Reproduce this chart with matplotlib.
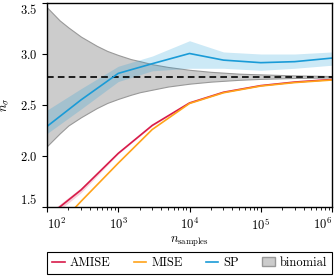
import matplotlib
matplotlib.use('Agg')
import matplotlib.pyplot as plt
from matplotlib.patches import Patch
from matplotlib.lines import Line2D

plt.rcParams['font.family'] = 'serif'
plt.rcParams['font.serif'] = ['cmr10']
plt.rcParams['mathtext.fontset'] = 'cm'
plt.rcParams['axes.formatter.use_mathtext'] = True
plt.rcParams['font.size'] = 9

# measured points
n_samples = [100, 300, 1000, 3000, 10000, 30000, 100000, 300000, 1000000]
amise = [1.40, 1.667, 2.026, 2.30, 2.52, 2.625, 2.69, 2.725, 2.75]
amise_lo = [1.37, 1.64, 2.02, 2.295, 2.516, 2.621, 2.687, 2.722, 2.748]
amise_hi = [1.43, 1.69, 2.032, 2.305, 2.524, 2.629, 2.693, 2.728, 2.752]
mise = [1.20, 1.555, 1.93, 2.26, 2.515, 2.62, 2.686, 2.72, 2.745]
sp = [2.29, 2.55, 2.81, 2.905, 3.005, 2.94, 2.915, 2.925, 2.96]
sp_lo = [2.22, 2.46, 2.73, 2.835, 2.86, 2.86, 2.84, 2.86, 2.89]
sp_hi = [2.45, 2.66, 2.88, 2.98, 3.13, 3.02, 3.00, 3.00, 3.02]

# reference value and binomial band
n_ref = 2.777
n_binom = [100, 150, 200, 300, 500, 700, 1000, 1500, 2000, 3000, 5000,
           10000, 20000, 50000, 100000, 300000, 1000000]
binom_hi = [3.457, 3.33, 3.26, 3.17, 3.08, 3.03, 2.99, 2.95, 2.93, 2.90,
            2.873, 2.845, 2.825, 2.807, 2.80, 2.79, 2.784]
binom_lo = [2.097, 2.22, 2.30, 2.38, 2.47, 2.52, 2.56, 2.60, 2.625, 2.65,
            2.681, 2.709, 2.729, 2.747, 2.756, 2.765, 2.770]

xticks = [1e2, 1e3, 1e4, 1e5, 1e6]
yticks = [1.5, 2.0, 2.5, 3.0, 3.5]

c_amise = '#d81b4a'
c_mise = '#ffa31a'
c_sp = '#1a9bd7'

fig = plt.figure(figsize=(3.36, 2.76), dpi=100)
ax = fig.add_axes([47/336, 1 - 207/276, 285/336, 204/276])

ax.fill_between(n_binom, binom_lo, binom_hi, facecolor='0.8', edgecolor='0.6', lw=0.8)
ax.fill_between(n_samples, sp_lo, sp_hi, color=c_sp, alpha=0.22, lw=0)
ax.fill_between(n_samples, amise_lo, amise_hi, color=c_amise, alpha=0.2, lw=0)
ax.axhline(n_ref, color='k', ls=(0, (4, 2.5)), lw=1.2)
ax.plot(n_samples, amise, color=c_amise, lw=1.2)
ax.plot(n_samples, mise, color=c_mise, lw=1.2)
ax.plot(n_samples, sp, color=c_sp, lw=1.2)

ax.set_xscale('log')
ax.set_xlim(1e2, 1e6)
ax.set_ylim(1.5, 3.5)
ax.set_xticks(xticks)
ax.set_yticks(yticks)
ax.set_xlabel(r'$n_\mathrm{samples}$', labelpad=2)
ax.set_ylabel(r'$n_\sigma$', labelpad=6)
for s in ax.spines.values():
    s.set_linewidth(1.0)

# end labels pulled inside the axes span
xt = ax.xaxis.get_major_ticks()
xt[0].label1.set_horizontalalignment('left')
xt[-1].label1.set_horizontalalignment('right')
yt = ax.yaxis.get_major_ticks()
yt[0].label1.set_verticalalignment('bottom')
yt[-1].label1.set_verticalalignment('top')

handles = [Line2D([], [], color=c_amise, lw=1.2),
           Line2D([], [], color=c_mise, lw=1.2),
           Line2D([], [], color=c_sp, lw=1.2),
           Patch(facecolor='0.8', edgecolor='0.6')]
leg = ax.legend(handles, ['AMISE', 'MISE', 'SP', 'binomial'], ncol=4,
                loc='upper left', bbox_to_anchor=(0, -0.32, 1, 0.1),
                mode='expand', fancybox=False, edgecolor='k',
                handlelength=1.0, handletextpad=0.4, borderaxespad=0,
                columnspacing=1.0, framealpha=1)
leg.get_frame().set_linewidth(0.8)

fig.savefig('out.png', dpi=100)
